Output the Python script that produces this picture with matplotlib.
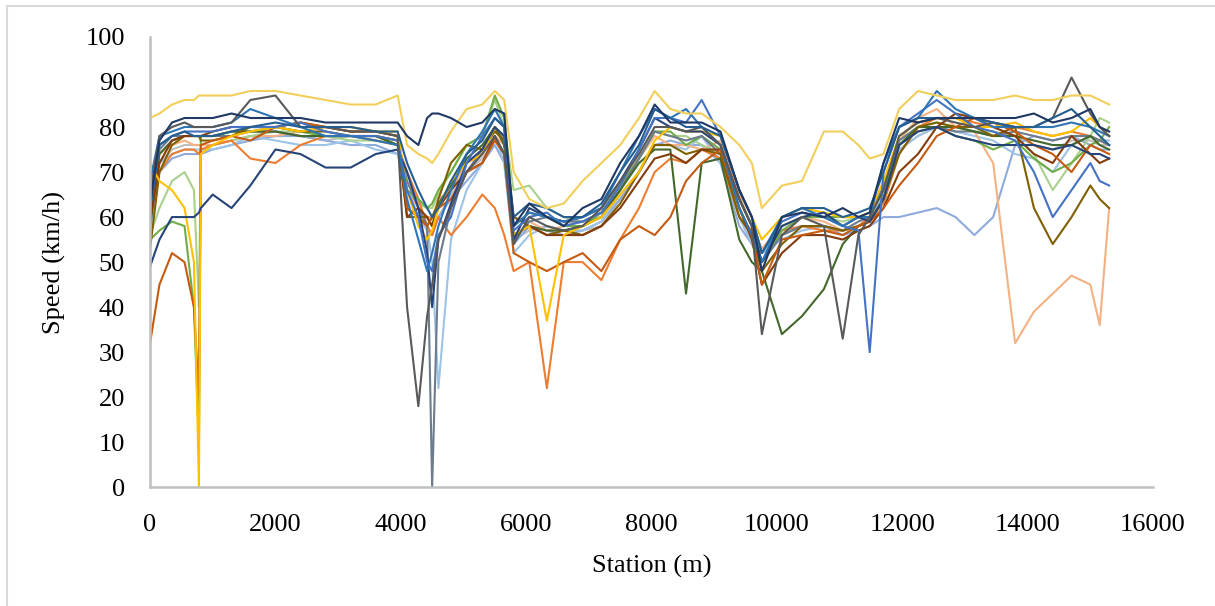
import matplotlib.pyplot as plt
from matplotlib.patches import Rectangle

plt.rcParams['font.family'] = ['Liberation Serif', 'DejaVu Serif']

# stations (m) shared by every run
station = [0, 150, 350, 550, 700, 780, 810, 1000, 1300, 1600,
           2000, 2400, 2800, 3200, 3600, 3950, 4100, 4280, 4420, 4500,
           4600, 4800, 5050, 5300, 5500, 5650, 5800, 6050, 6330, 6600,
           6900, 7200, 7500, 7800, 8050, 8300, 8550, 8800, 9100, 9400,
           9600, 9760, 10080, 10400, 10750, 11050, 11300, 11480, 11700, 11950,
           12250, 12550, 12850, 13150, 13450, 13800, 14100, 14400, 14700, 15000, 15150, 15300]

# speed (km/h) of each run
run_01 = [82, 83, 85, 86, 86, 87, 87, 87, 87, 88,
          88, 87, 86, 85, 85, 87, 76, 74, 73, 72,
          74, 79, 84, 85, 88, 86, 70, 64, 62, 63,
          68, 72, 76, 82, 88, 84, 83, 83, 80, 76,
          72, 62, 67, 68, 79, 79, 76, 73, 74, 84,
          88, 87, 86, 86, 86, 87, 86, 86, 87, 87, 86, 85]
run_02 = [63, 77, 81, 82, 82, 82, 82, 82, 83, 82,
          82, 82, 81, 81, 81, 81, 78, 76, 82, 83,
          83, 82, 80, 81, 84, 83, 58, 63, 60, 58,
          62, 64, 72, 78, 85, 81, 81, 81, 79, 66,
          60, 48, 60, 61, 60, 62, 60, 61, 72, 82,
          81, 82, 82, 82, 82, 82, 83, 81, 82, 84, 80, 79]
run_03 = [49, 55, 60, 60, 60, 61, 62, 65, 62, 67,
          75, 74, 71, 71, 74, 75, 70, 62, 52, 40,
          55, 63, 72, 75, 80, 78, 55, 62, 60, 59,
          60, 62, 68, 75, 82, 80, 79, 79, 76, 64,
          58, 50, 58, 60, 61, 58, 60, 59, 64, 76,
          79, 80, 78, 77, 76, 76, 76, 75, 76, 74, 74, 73]
run_04 = [32, 45, 52, 50, 40, 20, 76, 77, 78, 77,
          80, 81, 80, 79, 79, 78, 62, 60, 58, 60,
          62, 64, 70, 72, 77, 74, 52, 50, 48, 50,
          52, 48, 55, 58, 56, 60, 68, 72, 75, 62,
          56, 45, 55, 56, 57, 56, 58, 59, 62, 67,
          72, 78, 80, 82, 81, 79, 76, 74, 70, 76, 75, 74]
run_05 = [60, 70, 74, 75, 75, 74, 75, 76, 77, 73,
          72, 76, 78, 78, 77, 76, 70, 64, 58, 56,
          60, 56, 60, 65, 62, 56, 48, 50, 22, 50,
          50, 46, 55, 62, 70, 73, 72, 75, 73, 60,
          57, 50, 57, 58, 57, 57, 58, 60, 63, 74,
          80, 82, 82, 81, 80, 80, 79, 78, 79, 78, 77, 76]
run_06 = [66, 74, 76, 77, 76, 76, 76, 76, 77, 78,
          78, 79, 80, 80, 79, 78, 66, 62, 60, 60,
          64, 66, 72, 74, 78, 76, 60, 59, 57, 58,
          59, 60, 68, 73, 78, 76, 76, 75, 77, 65,
          58, 53, 58, 60, 59, 57, 58, 59, 64, 77,
          82, 84, 80, 79, 72, 32, 39, 43, 47, 45, 36, 62]
run_07 = [72, 68, 66, 62, 50, 0, 74, 76, 78, 79,
          80, 79, 80, 80, 79, 79, 66, 58, 55, 57,
          62, 68, 72, 74, 80, 78, 56, 58, 37, 56,
          58, 60, 65, 70, 77, 80, 79, 79, 78, 66,
          60, 55, 60, 62, 61, 60, 60, 61, 68, 78,
          81, 82, 82, 80, 80, 81, 79, 78, 79, 82, 80, 78]
run_08 = [55, 57, 59, 58, 40, 10, 78, 78, 79, 79,
          80, 79, 78, 78, 78, 76, 66, 64, 62, 63,
          66, 70, 76, 78, 87, 82, 58, 61, 60, 58,
          58, 61, 67, 73, 79, 79, 76, 78, 75, 64,
          58, 50, 57, 60, 60, 60, 60, 61, 66, 76,
          79, 80, 78, 77, 75, 77, 73, 70, 72, 76, 77, 80]
run_09 = [65, 78, 80, 81, 80, 80, 80, 80, 81, 86,
          87, 80, 80, 79, 79, 78, 40, 18, 38, 45,
          55, 62, 70, 74, 78, 74, 54, 60, 58, 57,
          58, 62, 68, 74, 80, 80, 79, 80, 76, 64,
          58, 34, 56, 60, 58, 33, 56, 60, 66, 78,
          81, 82, 81, 80, 81, 80, 80, 82, 91, 83, 80, 78]
run_10 = [60, 75, 78, 78, 78, 78, 78, 78, 78, 79,
          79, 78, 78, 78, 78, 77, 68, 62, 58, 0,
          50, 62, 70, 75, 80, 77, 55, 59, 60, 59,
          59, 61, 66, 73, 79, 78, 77, 78, 74, 62,
          56, 50, 56, 58, 58, 57, 59, 60, 67, 77,
          80, 80, 79, 79, 78, 79, 78, 77, 78, 78, 77, 76]
run_11 = [63, 72, 74, 75, 75, 75, 75, 75, 76, 78,
          77, 76, 76, 77, 75, 74, 70, 64, 58, 50,
          22, 55, 66, 72, 78, 72, 52, 56, 58, 57,
          57, 59, 65, 70, 76, 76, 75, 78, 72, 60,
          54, 52, 55, 57, 58, 57, 58, 59, 65, 75,
          78, 80, 79, 78, 77, 74, 73, 70, 76, 78, 77, 77]
run_12 = [62, 76, 78, 79, 79, 79, 79, 79, 80, 80,
          80, 81, 79, 78, 78, 77, 66, 60, 50, 48,
          56, 60, 72, 78, 82, 80, 57, 60, 61, 58,
          59, 61, 67, 75, 82, 82, 81, 86, 78, 66,
          60, 52, 59, 61, 60, 58, 57, 30, 70, 80,
          83, 86, 83, 80, 79, 77, 70, 60, 66, 72, 68, 67]
run_13 = [58, 74, 77, 78, 78, 78, 78, 78, 79, 79,
          79, 78, 78, 78, 78, 76, 62, 60, 58, 60,
          63, 67, 73, 76, 80, 76, 56, 58, 57, 57,
          58, 60, 66, 72, 75, 75, 43, 72, 73, 55,
          50, 48, 34, 38, 44, 54, 58, 59, 64, 76,
          80, 80, 80, 79, 78, 78, 77, 76, 76, 78, 76, 75]
run_14 = [57, 70, 73, 74, 74, 74, 74, 75, 76, 77,
          78, 78, 77, 76, 76, 74, 66, 60, 58, 56,
          60, 64, 68, 72, 76, 72, 54, 58, 57, 56,
          57, 59, 64, 70, 76, 77, 76, 76, 72, 58,
          54, 50, 56, 58, 58, 56, 57, 58, 60, 60,
          61, 62, 60, 56, 60, 76, 78, 77, 78, 76, 75, 75]
run_15 = [53, 70, 76, 78, 78, 78, 77, 77, 78, 80,
          80, 79, 79, 78, 78, 77, 60, 60, 60, 58,
          64, 72, 76, 75, 79, 77, 60, 58, 56, 57,
          56, 58, 63, 70, 76, 76, 74, 75, 74, 60,
          56, 48, 54, 58, 58, 57, 58, 59, 64, 74,
          80, 81, 80, 80, 78, 80, 62, 54, 60, 67, 64, 62]
run_16 = [68, 78, 79, 80, 80, 80, 80, 80, 81, 84,
          82, 80, 78, 78, 77, 76, 64, 55, 48, 52,
          58, 66, 74, 79, 84, 80, 58, 61, 60, 59,
          60, 62, 70, 78, 84, 82, 84, 80, 76, 62,
          56, 50, 60, 62, 60, 58, 60, 60, 72, 80,
          82, 88, 84, 82, 80, 80, 80, 80, 81, 80, 79, 78]
run_17 = [56, 62, 68, 70, 66, 40, 74, 76, 77, 78,
          79, 79, 78, 77, 77, 76, 66, 63, 62, 62,
          65, 70, 76, 78, 86, 80, 66, 67, 62, 60,
          59, 60, 66, 73, 79, 78, 78, 76, 74, 64,
          58, 52, 58, 60, 60, 59, 60, 60, 66, 77,
          80, 81, 80, 79, 79, 78, 74, 66, 72, 78, 82, 81]
run_18 = [62, 76, 78, 79, 78, 78, 78, 78, 79, 80,
          81, 80, 80, 80, 79, 79, 72, 66, 62, 60,
          62, 68, 74, 77, 82, 80, 60, 63, 62, 60,
          60, 63, 70, 76, 84, 82, 80, 80, 78, 66,
          60, 52, 60, 62, 62, 60, 61, 62, 70, 80,
          82, 82, 82, 82, 81, 80, 80, 82, 84, 80, 78, 76]
run_19 = [60, 72, 75, 76, 76, 76, 76, 76, 77, 78,
          78, 78, 77, 78, 78, 76, 62, 60, 57, 56,
          60, 65, 70, 73, 77, 74, 55, 57, 58, 57,
          57, 58, 64, 70, 76, 76, 76, 76, 73, 60,
          54, 50, 56, 58, 58, 57, 58, 59, 63, 75,
          78, 80, 80, 79, 78, 78, 76, 75, 77, 77, 76, 76]
run_20 = [59, 72, 77, 78, 78, 78, 78, 79, 80, 80,
          80, 81, 80, 79, 79, 78, 60, 62, 60, 58,
          62, 66, 70, 72, 78, 74, 56, 58, 56, 56,
          56, 58, 62, 68, 73, 74, 72, 75, 75, 62,
          55, 45, 52, 56, 56, 55, 57, 58, 62, 70,
          74, 80, 83, 82, 80, 78, 74, 72, 78, 74, 72, 73]

runs = [run_19, run_14, run_11, run_06, run_17, run_05, run_08, run_10,
        run_13, run_15, run_20, run_04, run_07, run_03, run_12, run_16,
        run_09, run_18, run_01, run_02]
colors = ['#BFBFBF', '#8FAADC', '#9DC3E6', '#F4B183', '#A9D18E', '#ED7D31',
          '#70AD47', '#6D7B8D', '#43682B', '#7F6000', '#843C0C', '#C55A11',
          '#FFC000', '#264478', '#4472C4', '#2E75B6', '#595959', '#255E91',
          '#F2CF5B', '#1F3864']

fig = plt.figure(figsize=(12.15, 6.06), dpi=100)
fig.patches.append(Rectangle((0.006, -0.02), 1.1, 1.01, transform=fig.transFigure,
                             fill=False, edgecolor='#D9D9D9', linewidth=1.5))
ax = fig.add_axes([0.1235, 0.196, 0.8255, 0.743])

for r, c in zip(runs, colors):
    assert len(r) == len(station)
    ax.plot(station, r, color=c, linewidth=1.5)

ax.set_xlim(0, 16000)
ax.set_ylim(0, 100)
ax.set_xticks(range(0, 16001, 2000))
ax.set_yticks(range(0, 101, 10))
ax.tick_params(length=0, labelsize=19)
ax.tick_params(axis='y', pad=18)
ax.tick_params(axis='x', pad=19)
for s in ['top', 'right']:
    ax.spines[s].set_visible(False)
for s in ['left', 'bottom']:
    ax.spines[s].set_color('#BFBFBF')
    ax.spines[s].set_linewidth(1.8)
ax.set_xlabel('Station (m)', fontsize=19, labelpad=14)
ax.set_ylabel('Speed (km/h)', fontsize=19, labelpad=14)

plt.savefig('out.png', dpi=100)
